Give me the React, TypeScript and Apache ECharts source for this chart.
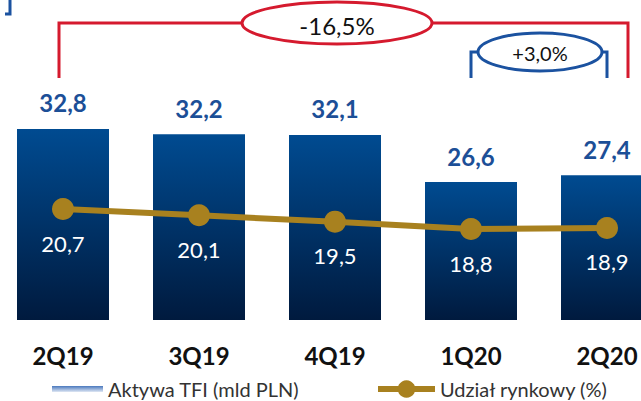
import React, { useEffect, useRef } from "react";
import * as echarts from "echarts";

const categories = ["2Q19", "3Q19", "4Q19", "1Q20", "2Q20"];
const assets = [32.8, 32.2, 32.1, 26.6, 27.4];
const share = [20.7, 20.1, 19.5, 18.8, 18.9];
const changeTotal = "-16,5%";
const changeQuarter = "+3,0%";

const OX = 5; // inner chart div is shifted left by 5px
const fmt = (v: number) => v.toFixed(1).replace(".", ",");
const FONT = "Lato";

export default function App() {
  const ref = useRef<HTMLDivElement>(null);
  useEffect(() => {
    if (!ref.current) return;
    const chart = echarts.init(ref.current, null, { renderer: "svg" });
    const red = "#d51a2e";
    const blue = "#1b52a0";
    const gold = "#a8811f";
    chart.setOption({
      animation: false,
      textStyle: { fontFamily: FONT },
      grid: { left: 0, right: 0, top: 60, bottom: 81, containLabel: false },
      xAxis: {
        type: "category",
        data: categories,
        axisLine: { show: false },
        axisTick: { show: false },
        axisLabel: {
          margin: 23,
          color: "#111",
          fontSize: 24,
          fontWeight: "bold",
          fontFamily: FONT,
        },
      },
      yAxis: [
        { type: "value", min: 10.46, max: 40.87, show: false, splitLine: { show: false } },
        { type: "value", min: 10.16, max: 34.85, show: false, splitLine: { show: false } },
      ],
      legend: [
        {
          left: 52 + OX,
          top: 378,
          padding: 0,
          itemWidth: 51,
          itemHeight: 6,
          textStyle: { color: "#333", fontSize: 20, fontFamily: FONT, lineHeight: 22 },
          data: [
            {
              name: "Aktywa TFI (mld PLN)",
              icon: "rect",
              itemStyle: {
                color: new echarts.graphic.LinearGradient(0, 0, 0, 1, [
                  { offset: 0, color: "#4a78bd" },
                  { offset: 1, color: "#dfe7f4" },
                ]),
              },
            },
          ],
        },
        {
          left: 375 + OX,
          top: 378,
          padding: 0,
          itemWidth: 57,
          itemHeight: 22,
          textStyle: { color: "#333", fontSize: 20, fontFamily: FONT, lineHeight: 22 },
          data: [
            {
              name: "Udział rynkowy (%)",
              itemStyle: { color: gold },
              lineStyle: { color: gold, width: 6 },
            },
          ],
        },
      ],
      series: [
        {
          name: "Aktywa TFI (mld PLN)",
          type: "bar",
          data: assets,
          barWidth: 92,
          itemStyle: {
            color: new echarts.graphic.LinearGradient(0, 0, 0, 1, [
              { offset: 0, color: "#004b91" },
              { offset: 1, color: "#001a3e" },
            ]),
          },
          label: {
            show: true,
            position: "top",
            distance: 14,
            color: "#1c4f97",
            fontSize: 24,
            fontWeight: "bold",
            fontFamily: FONT,
            formatter: (p: any) => fmt(p.value),
          },
        },
        {
          name: "Udział rynkowy (%)",
          type: "line",
          yAxisIndex: 1,
          data: share,
          symbol: "circle",
          symbolSize: 22,
          z: 5,
          itemStyle: { color: gold },
          lineStyle: { color: gold, width: 6 },
          label: {
            show: true,
            position: "bottom",
            distance: 12,
            color: "#ffffff",
            fontSize: 22,
            fontFamily: FONT,
            formatter: (p: any) => fmt(p.value),
          },
        },
      ],
      graphic: [
        {
          type: "polyline",
          shape: { points: [[5 + OX, 14], [10 + OX, 14], [10 + OX, 0]] },
          style: { stroke: blue, lineWidth: 3, fill: null },
        },
        {
          type: "polyline",
          shape: { points: [[59 + OX, 78], [59 + OX, 23], [628 + OX, 23], [628 + OX, 78]] },
          style: { stroke: red, lineWidth: 3, fill: null },
        },
        {
          type: "ellipse",
          shape: { cx: 337 + OX, cy: 23, rx: 95, ry: 21 },
          style: { stroke: red, lineWidth: 3, fill: "#ffffff" },
        },
        {
          type: "text",
          x: 337 + OX,
          y: 25,
          style: {
            text: changeTotal,
            fill: "#111",
            fontSize: 24,
            fontFamily: FONT,
            align: "center",
            verticalAlign: "middle",
          },
        },
        {
          type: "polyline",
          shape: { points: [[471 + OX, 78], [471 + OX, 52], [607 + OX, 52], [607 + OX, 78]] },
          style: { stroke: blue, lineWidth: 3, fill: null },
        },
        {
          type: "ellipse",
          shape: { cx: 540 + OX, cy: 52, rx: 62, ry: 19 },
          style: { stroke: blue, lineWidth: 3, fill: "#ffffff" },
        },
        {
          type: "text",
          x: 540 + OX,
          y: 53,
          style: {
            text: changeQuarter,
            fill: "#111",
            fontSize: 20,
            fontFamily: FONT,
            align: "center",
            verticalAlign: "middle",
          },
        },
      ],
    });
    return () => chart.dispose();
  }, []);
  return (
    <div
      style={{
        position: "fixed",
        left: 0,
        top: 0,
        width: 641,
        height: 401,
        overflow: "hidden",
        background: "#fff",
      }}
    >
      <div
        ref={ref}
        style={{ position: "absolute", left: -OX, top: 0, width: 680, height: 401 }}
      />
    </div>
  );
}
